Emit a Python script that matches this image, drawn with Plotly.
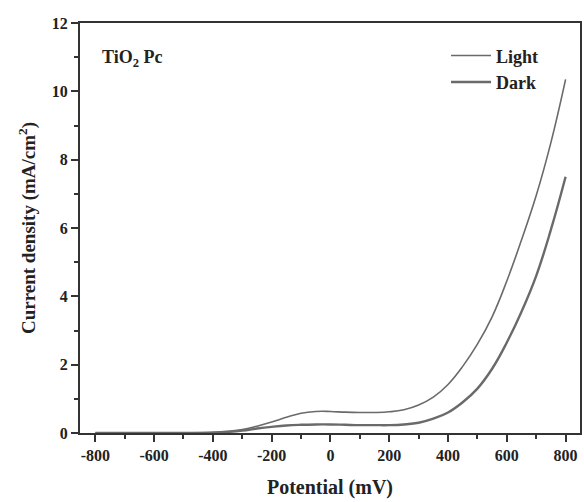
import plotly.graph_objects as go

potential = [-800, -700, -600, -500, -400, -350, -300, -250, -200, -150, -100, -50, 0, 50,
             100, 150, 200, 250, 300, 350, 400, 450, 500, 550, 600, 650, 700, 750, 800]
light = [0.0, 0.0, 0.0, 0.005, 0.02, 0.05, 0.10, 0.20, 0.32, 0.46, 0.58, 0.63, 0.63, 0.61,
         0.60, 0.60, 0.62, 0.68, 0.82, 1.05, 1.42, 1.95, 2.60, 3.40, 4.45, 5.65, 6.95, 8.50, 10.35]
dark = [0.0, 0.0, 0.0, 0.0, 0.01, 0.03, 0.07, 0.13, 0.18, 0.22, 0.24, 0.25, 0.25, 0.24,
        0.23, 0.23, 0.23, 0.25, 0.30, 0.42, 0.60, 0.90, 1.30, 1.88, 2.65, 3.55, 4.60, 5.95, 7.50]

x_tickvals = [-800, -600, -400, -200, 0, 200, 400, 600, 800]
x_ticktext = ["-800", "-600", "-400", "-200", "0", "200", "400", "600", "800"]
x_minor = [-700, -500, -300, -100, 100, 300, 500, 700]
y_tickvals = [0, 2, 4, 6, 8, 10, 12]
y_minor = [1, 3, 5, 7, 9, 11]

LINE = "#6a6a6a"
AX = "#333333"
TXT = "#222222"
FONT = "Liberation Serif"

fig = go.Figure()
fig.add_trace(go.Scatter(x=potential, y=light, mode="lines", name="Light",
                         line=dict(color=LINE, width=1.6, shape="spline", smoothing=1.2),
                         legendgroup="a"))
fig.add_trace(go.Scatter(x=potential, y=dark, mode="lines", name="Dark",
                         line=dict(color=LINE, width=2.4, shape="spline", smoothing=1.2),
                         legendgroup="b"))

fig.add_annotation(x=-785, y=10.97, xref="x", yref="y", text="TiO<sub>2</sub> Pc",
                   showarrow=False, xanchor="left", yanchor="middle",
                   font=dict(family=FONT, size=18, color=TXT, weight="bold"))

fig.update_layout(
    width=584, height=502,
    margin=dict(l=80, r=2, t=23, b=69),
    paper_bgcolor="white", plot_bgcolor="white",
    font=dict(family=FONT, color=TXT),
    legend=dict(x=0.732, y=0.965, xanchor="left", yanchor="top",
                bgcolor="rgba(0,0,0,0)", tracegroupgap=0,
                font=dict(family=FONT, size=18, color=TXT, weight="bold"), itemwidth=40),
    showlegend=True,
)
fig.update_xaxes(
    range=[-852, 849], tickmode="array", tickvals=x_tickvals, ticktext=x_ticktext,
    ticks="outside", ticklen=7, tickwidth=2, tickcolor=AX,
    minor=dict(tickvals=x_minor, ticks="outside", ticklen=4, tickwidth=2, tickcolor=AX),
    showline=True, linecolor=AX, linewidth=2, mirror=True, showgrid=False, zeroline=False,
    tickfont=dict(family=FONT, size=16, color=TXT, weight="bold"),
    title=dict(text="Potential (mV)", font=dict(family=FONT, size=20, color=TXT, weight="bold"),
               standoff=17),
)
fig.update_yaxes(
    range=[0, 12], tickmode="array", tickvals=y_tickvals,
    ticktext=[str(v) for v in y_tickvals],
    ticks="outside", ticklen=7, tickwidth=2, tickcolor=AX,
    minor=dict(tickvals=y_minor, ticks="outside", ticklen=4, tickwidth=2, tickcolor=AX),
    showline=True, linecolor=AX, linewidth=2, mirror=True, showgrid=False, zeroline=False,
    tickfont=dict(family=FONT, size=16, color=TXT, weight="bold"),
    title=dict(text="Current density (mA/cm<sup>2</sup>)",
               font=dict(family=FONT, size=19, color=TXT, weight="bold"), standoff=11),
)

fig.write_html("out.html")
